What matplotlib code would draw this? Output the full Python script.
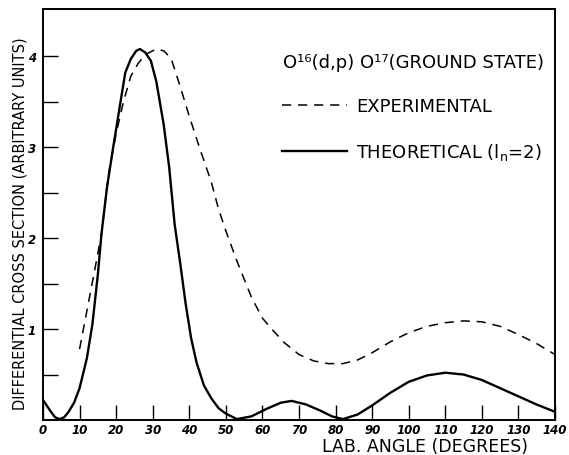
import matplotlib
import matplotlib.pyplot as plt
from matplotlib.ticker import FixedLocator

matplotlib.use("Agg")

# experimental curve (dashed)
exp_angle = [10, 12, 14, 16, 18, 20, 22, 24, 26, 28, 31, 33, 35, 37.5, 40, 43,
             46, 48, 50, 53, 57, 60, 63, 66, 70, 74, 78, 82, 86, 90, 95, 100,
             105, 110, 115, 120, 125, 130, 135, 140]
exp_sigma = [0.78, 1.2, 1.62, 2.05, 2.72, 3.15, 3.5, 3.78, 3.92, 4.02, 4.08,
             4.06, 3.98, 3.67, 3.34, 2.97, 2.62, 2.32, 2.08, 1.75, 1.35, 1.12,
             0.98, 0.85, 0.72, 0.65, 0.62, 0.62, 0.66, 0.74, 0.86, 0.96, 1.03,
             1.07, 1.09, 1.08, 1.03, 0.94, 0.84, 0.72]

# theoretical curve (solid, l_n = 2)
th_angle = [0, 2, 3.3, 4.5, 5.8, 7, 8.5, 10, 12, 13.5, 15, 16, 17.5, 19, 21,
            22.5, 24, 25.5, 26.5, 28, 29.5, 31, 33, 34.5, 36, 37.5, 39, 40.5,
            42, 44, 46, 48, 50, 53, 57, 61, 65, 68, 72, 76, 79, 82, 86, 90, 95,
            100, 105, 110, 115, 120, 125, 130, 135, 140]
th_sigma = [0.22, 0.1, 0.03, 0.01, 0.03, 0.09, 0.19, 0.35, 0.68, 1.05, 1.6,
            2.05, 2.56, 2.95, 3.45, 3.82, 3.97, 4.06, 4.08, 4.04, 3.95, 3.72,
            3.25, 2.78, 2.15, 1.73, 1.28, 0.9, 0.63, 0.38, 0.24, 0.13, 0.07,
            0.01, 0.04, 0.12, 0.19, 0.21, 0.17, 0.1, 0.04, 0.01, 0.06, 0.16,
            0.3, 0.42, 0.49, 0.52, 0.5, 0.44, 0.35, 0.26, 0.17, 0.09]

x_ticks = [0, 10, 20, 30, 40, 50, 60, 70, 80, 90, 100, 110, 120, 130, 140]
y_ticks = [1, 2, 3, 4]


def main():
    fig = plt.figure(figsize=(5.69, 4.56), dpi=100)
    ax = fig.add_axes([43 / 569, 35 / 456, 512 / 569, 411 / 456])

    ax.plot(exp_angle, exp_sigma, color="black", lw=1.1,
            dashes=(6, 4.5), label="EXPERIMENTAL")
    ax.plot(th_angle, th_sigma, color="black", lw=1.7,
            label=r"THEORETICAL (l$_{\rm n}$=2)")

    ax.set_xlim(0, 140)
    ax.set_ylim(0, 4.52)
    ax.xaxis.set_major_locator(FixedLocator(x_ticks))
    ax.yaxis.set_major_locator(FixedLocator(y_ticks))
    ax.yaxis.set_minor_locator(FixedLocator([0.5, 1.5, 2.5, 3.5]))
    ax.tick_params(which="both", direction="in", length=11, width=1.0,
                   labelsize=8.5)
    ax.tick_params(axis="x", pad=2)
    ax.tick_params(axis="y", pad=5)
    for lbl in ax.get_xticklabels() + ax.get_yticklabels():
        lbl.set_fontweight("bold")
        lbl.set_fontstyle("italic")
    for sp in ax.spines.values():
        sp.set_linewidth(1.4)

    ax.text(283 / 569, 1 - 63 / 456, "O¹⁶(d,p) O¹⁷(GROUND STATE)",
            transform=fig.transFigure, fontsize=13, va="center", ha="left")

    ax.legend(loc="upper left", bbox_to_anchor=(282 / 569, 1 - 98 / 456),
              bbox_transform=fig.transFigure, frameon=False, fontsize=13,
              handlelength=3.6, handletextpad=0.5, labelspacing=1.45,
              borderpad=0, borderaxespad=0)

    fig.text(20 / 569, 1 - 224 / 456,
             "DIFFERENTIAL CROSS SECTION (ARBITRARY UNITS)",
             rotation=90, fontsize=10.5, ha="center", va="center")
    fig.text(425 / 569, 1 - 447 / 456, "LAB. ANGLE (DEGREES)",
             fontsize=12.5, ha="center", va="center")

    fig.savefig("out.png", dpi=100)
    return 0


if __name__ == "__main__":
    main()
